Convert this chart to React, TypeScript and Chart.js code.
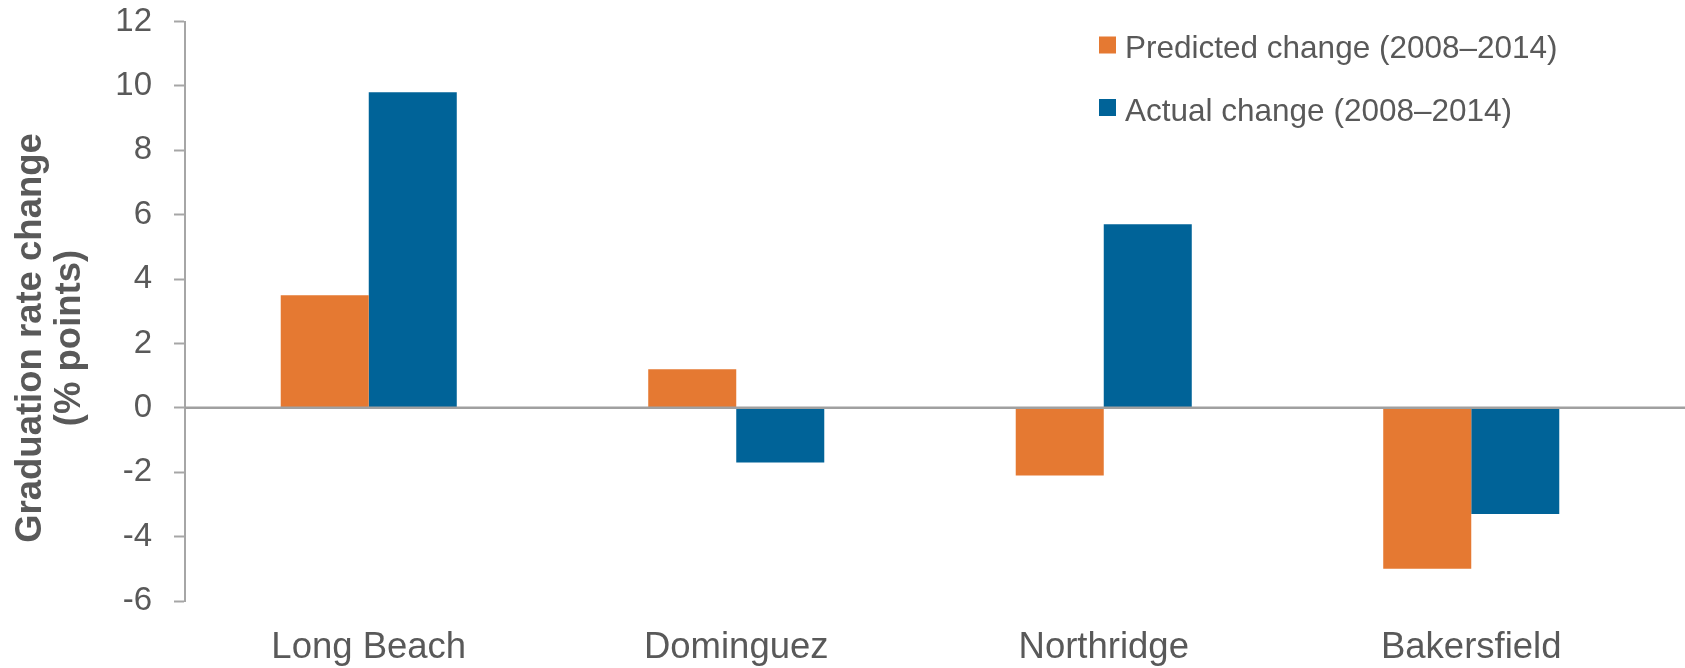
import React, { useEffect, useRef } from "react";
import { Chart, registerables } from "chart.js";

Chart.register(...registerables);

const categories = ["Long Beach", "Dominguez", "Northridge", "Bakersfield"];
const predictedChange = [3.5, 1.2, -2.1, -5.0];
const actualChange = [9.8, -1.7, 5.7, -3.3];
const seriesLabels = ["Predicted change (2008\u20132014)", "Actual change (2008\u20132014)"];
const seriesColors = ["#E57932", "#006398"];
const yTitleLines = ["Graduation rate change", "(% points)"];
const yMin = -6;
const yMax = 12;
const yStep = 2;

const FONT = '"Liberation Sans", Arial, sans-serif';
const TEXT = "#595959";
const AXIS = "#A6A6A6";

const decorPlugin = {
  id: "decor",
  afterDatasetsDraw(chart: any) {
    const { ctx, chartArea, scales } = chart;
    const y0 = scales.y.getPixelForValue(0);
    ctx.save();
    ctx.strokeStyle = "#A0A0A0";
    ctx.lineWidth = 2.5;
    ctx.beginPath();
    ctx.moveTo(chartArea.left, y0);
    ctx.lineTo(chart.width, y0);
    ctx.stroke();
    ctx.restore();
  },
  afterDraw(chart: any) {
    const { ctx } = chart;
    ctx.save();
    // legend
    ctx.font = `31.5px ${FONT}`;
    ctx.textAlign = "left";
    ctx.textBaseline = "alphabetic";
    chart.data.datasets.forEach((ds: any, i: number) => {
      const rowY = 45 + i * 62.5;
      ctx.fillStyle = ds.backgroundColor;
      ctx.fillRect(1099, rowY - 8.5, 17, 17);
      ctx.fillStyle = TEXT;
      ctx.fillText(ds.label, 1125, rowY + 13.3);
    });
    // y-axis title
    ctx.font = `bold 36.5px ${FONT}`;
    ctx.fillStyle = TEXT;
    ctx.textAlign = "center";
    const baselines = [41, 80];
    yTitleLines.forEach((line, i) => {
      ctx.save();
      ctx.translate(baselines[i], 338);
      ctx.rotate(-Math.PI / 2);
      ctx.fillText(line, 0, 0);
      ctx.restore();
    });
    ctx.restore();
  },
};

export default function App() {
  const canvasRef = useRef<HTMLCanvasElement>(null);

  useEffect(() => {
    if (!canvasRef.current) return;
    const chart = new Chart(canvasRef.current, {
      type: "bar",
      data: {
        labels: categories,
        datasets: [
          {
            label: seriesLabels[0],
            data: predictedChange,
            backgroundColor: seriesColors[0],
            borderWidth: 0,
            categoryPercentage: 0.479,
            barPercentage: 1.0,
          },
          {
            label: seriesLabels[1],
            data: actualChange,
            backgroundColor: seriesColors[1],
            borderWidth: 0,
            categoryPercentage: 0.479,
            barPercentage: 1.0,
          },
        ],
      },
      options: {
        responsive: false,
        animation: false,
        layout: { padding: { top: 21.5, right: 30, left: 0, bottom: 0 } },
        plugins: {
          legend: { display: false },
          tooltip: { enabled: false },
          title: { display: false },
        },
        scales: {
          x: {
            grid: { display: false, drawTicks: false },
            border: { display: false },
            ticks: {
              color: TEXT,
              font: { family: FONT, size: 36.5 },
              padding: 25,
              maxRotation: 0,
            },
            afterFit(scale: any) {
              scale.height = 67;
            },
          },
          y: {
            min: yMin,
            max: yMax,
            grid: {
              drawOnChartArea: false,
              drawTicks: true,
              tickLength: 11,
              tickColor: AXIS,
              tickWidth: 2,
              color: AXIS,
            },
            border: { display: true, color: AXIS, width: 2 },
            ticks: {
              stepSize: yStep,
              color: TEXT,
              font: { family: FONT, size: 33 },
              padding: 22,
            },
            afterFit(scale: any) {
              scale.width = 185;
              scale.paddingTop = 0;
              scale.paddingBottom = 0;
            },
          },
        },
      },
      plugins: [decorPlugin],
    });
    return () => chart.destroy();
  }, []);

  return (
    <div style={{ position: "absolute", left: 0, top: 0, width: 1685, height: 668, background: "#fff" }}>
      <canvas ref={canvasRef} width={1685} height={668} style={{ display: "block" }} />
    </div>
  );
}
